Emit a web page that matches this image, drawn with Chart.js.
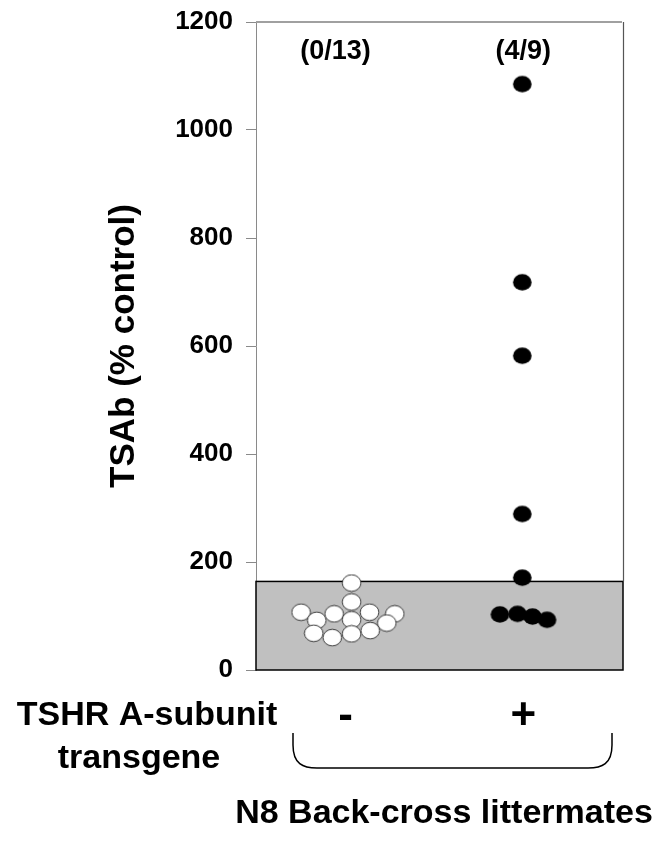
<!DOCTYPE html>
<html>
<head>
<meta charset="utf-8">
<script src="https://cdn.jsdelivr.net/npm/chart.js@4.4.1/dist/chart.umd.min.js"></script>
<style>
html,body{margin:0;padding:0;background:#ffffff;}
#wrap{width:660px;height:842px;position:relative;}
</style>
</head>
<body>
<div id="wrap"><canvas id="c" width="660" height="842"></canvas></div>
<script>
// ---- data ----
const categories = ['-', '+'];
const groupCounts = ['(0/13)', '(4/9)'];
const negativeValues  = [161, 126, 107, 92, 104, 93, 107, 104, 87, 68, 60, 67, 73];
const negativeOffsets = [0, 0, -0.296, -0.204, -0.102, 0, 0.105, 0.253, 0.206, -0.222, -0.113, 0, 0.109];
const positiveValues  = [1085, 718, 582, 289, 171, 103, 104, 99, 93];
const positiveOffsets = [0, 0, 0, 0, 0, -0.131, -0.028, 0.060, 0.145];
const yTickValues = [0, 200, 400, 600, 800, 1000, 1200];
const normalUpperLimit = 164;
const yAxisTitle = 'TSAb (% control)';
const xAxisTitleLines = ['TSHR A-subunit', 'transgene'];
const groupTitle = 'N8 Back-cross littermates';

const FONT = '"Liberation Sans", Arial, Helvetica, sans-serif';

function ellipseImage(fill, stroke) {
  const cv = document.createElement('canvas');
  cv.width = 21; cv.height = 19;
  const g = cv.getContext('2d');
  g.beginPath();
  g.ellipse(10.5, 9.5, 9.3, 8.3, 0, 0, Math.PI * 2);
  g.fillStyle = fill; g.fill();
  if (stroke) { g.lineWidth = 1; g.strokeStyle = stroke; g.stroke(); }
  return cv;
}
const whiteDot = ellipseImage('#ffffff', '#3a3a3a');
const blackDot = ellipseImage('#000000', null);

const negPoints = negativeValues.map((v, i) => ({x: 1 + negativeOffsets[i], y: v}));
const posPoints = positiveValues.map((v, i) => ({x: 2 + positiveOffsets[i], y: v}));

const decor = {
  id: 'decor',
  beforeDatasetsDraw(chart) {
    const {ctx, chartArea: a, scales: {y}} = chart;
    const top = y.getPixelForValue(normalUpperLimit);
    ctx.save();
    ctx.fillStyle = '#c0c0c0';
    ctx.fillRect(a.left, top, a.right - a.left, a.bottom - top);
    ctx.strokeStyle = '#000000';
    ctx.lineWidth = 1.5;
    ctx.strokeRect(a.left, top, a.right - a.left, a.bottom - top);
    ctx.strokeStyle = '#a0a0a0';
    ctx.lineWidth = 2;
    ctx.beginPath(); ctx.moveTo(a.left, a.top); ctx.lineTo(a.right - 1, a.top); ctx.stroke();
    ctx.strokeStyle = '#555555';
    ctx.lineWidth = 1.2;
    ctx.beginPath(); ctx.moveTo(a.right + 0.5, a.top); ctx.lineTo(a.right + 0.5, top); ctx.stroke();
    ctx.restore();
  },
  afterDraw(chart) {
    const {ctx, chartArea: a, scales: {x}} = chart;
    ctx.save();
    ctx.fillStyle = '#000000';
    // group counts
    ctx.font = 'bold 27px ' + FONT;
    ctx.textAlign = 'center';
    ctx.textBaseline = 'middle';
    const countNudge = [-16, 1];
    groupCounts.forEach((t, i) => ctx.fillText(t, x.getPixelForValue(i + 1) + countNudge[i], a.top + 30));
    // category symbols
    ctx.font = 'bold 44px ' + FONT;
    ctx.textBaseline = 'alphabetic';
    const catNudge = [-6, 1];
    categories.forEach((t, i) => ctx.fillText(t, x.getPixelForValue(i + 1) + catNudge[i], a.bottom + 59));
    // row title
    ctx.font = 'bold 34px ' + FONT;
    ctx.fillText(xAxisTitleLines[0], 147, a.bottom + 55);
    ctx.fillText(xAxisTitleLines[1], 139, a.bottom + 98);
    // bracket
    const bl = a.left + 37, br = a.right - 11, bt = a.bottom + 63, bb = a.bottom + 98;
    ctx.strokeStyle = '#000000';
    ctx.lineWidth = 1.5;
    ctx.beginPath();
    ctx.moveTo(bl, bt);
    ctx.lineTo(bl, bt + 12);
    ctx.bezierCurveTo(bl, bb - 4, bl + 10, bb, bl + 24, bb);
    ctx.lineTo(br - 24, bb);
    ctx.bezierCurveTo(br - 10, bb, br, bb - 4, br, bt + 12);
    ctx.lineTo(br, bt);
    ctx.stroke();
    // group title
    ctx.font = 'bold 34px ' + FONT;
    ctx.fillText(groupTitle, 444, a.bottom + 153);
    ctx.restore();
  }
};

new Chart(document.getElementById('c'), {
  type: 'scatter',
  data: {
    datasets: [
      {label: categories[0], data: negPoints, pointStyle: whiteDot, pointRadius: 9},
      {label: categories[1], data: posPoints, pointStyle: blackDot, pointRadius: 9}
    ]
  },
  options: {
    responsive: false,
    animation: false,
    devicePixelRatio: 1,
    events: [],
    layout: {autoPadding: false, padding: {left: 0, top: 22, right: 37, bottom: 172}},
    plugins: {legend: {display: false}, tooltip: {enabled: false}},
    scales: {
      x: {type: 'linear', min: 0.44, max: 2.59, display: false},
      y: {
        type: 'linear', min: 0, max: 1200,
        afterBuildTicks(scale) { scale.ticks = yTickValues.map(v => ({value: v})); },
        afterFit(scale) { scale.width = 256; scale.paddingTop = 14; scale.paddingBottom = 14; },
        ticks: {
          color: '#000000',
          padding: 13,
          font: {family: FONT, size: 26, weight: 'bold'},
          callback: (v) => String(v)
        },
        grid: {drawOnChartArea: false, drawTicks: true, tickLength: 10, color: '#8a8a8a', lineWidth: 1},
        border: {display: true, color: '#8a8a8a', width: 1},
        title: {
          display: true, text: yAxisTitle, color: '#000000',
          font: {family: FONT, size: 35, weight: 'bold'},
          padding: {top: 103, bottom: 0}
        }
      }
    }
  },
  plugins: [decor]
});
</script>
</body>
</html>
